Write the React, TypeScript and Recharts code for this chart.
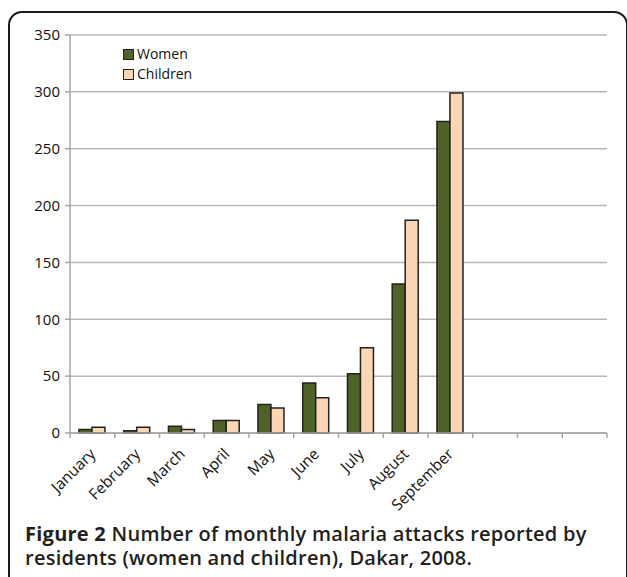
import React from "react";
import { BarChart, Bar, XAxis, YAxis, CartesianGrid } from "recharts";

const categories = ["January", "February", "March", "April", "May", "June", "July", "August", "September", " ", "  ", "   "];
const women = [3, 2, 6, 11, 25, 44, 52, 131, 274, null, null, null];
const children = [5, 5, 3, 11, 22, 31, 75, 187, 299, null, null, null];
const yTicks = [0, 50, 100, 150, 200, 250, 300, 350];
const seriesNames = ["Women", "Children"];
const seriesColors = ["#4f6228", "#fcd5b5"];

const data = categories.map((c, i) => ({ month: c, women: women[i], children: children[i] }));

const FONT = "'Open Sans', sans-serif";

const XTick = (props: any) => {
  const { x, y, payload, index } = props;
  const half = payload && payload.offset ? payload.offset : 22.4;
  const label = String(payload.value).trim();
  return (
    <g>
      <line x1={x - half} x2={x - half} y1={y} y2={y + 5} stroke="#a6a6a6" strokeWidth={1.5} />
      {index === categories.length - 1 && (
        <line x1={x + half} x2={x + half} y1={y} y2={y + 5} stroke="#a6a6a6" strokeWidth={1.5} />
      )}
      {label && (
        <text
          x={x + 4}
          y={y + 22}
          textAnchor="end"
          fontSize={15.5}
          fontFamily={FONT}
          fill="#111"
          transform={`rotate(-45, ${x + 4}, ${y + 22})`}
        >
          {label}
        </text>
      )}
    </g>
  );
};

const LegendBox = () => (
  <div
    style={{
      position: "absolute",
      left: 123,
      top: 44,
      fontFamily: FONT,
      fontSize: 14,
      color: "#111",
      lineHeight: "20px",
    }}
  >
    {seriesNames.map((n, i) => (
      <div key={n} style={{ display: "flex", alignItems: "center" }}>
        <span
          style={{
            display: "inline-block",
            width: 9,
            height: 9,
            background: seriesColors[i],
            border: "1.5px solid #222",
            marginRight: 3,
          }}
        />
        <span>{n}</span>
      </div>
    ))}
  </div>
);

export default function App() {
  return (
    <div style={{ position: "fixed", left: 0, top: 0, width: 627, height: 577, overflow: "hidden", background: "#fff" }}>
      <div
        style={{
          position: "absolute",
          left: 8,
          top: 11,
          width: 616,
          height: 700,
          border: "2px solid #1a1a1a",
          borderRadius: 14,
        }}
      />
      <div style={{ position: "absolute", left: 0, top: 0 }}>
        <BarChart
          width={627}
          height={520}
          data={data}
          margin={{ top: 35, right: 20, left: 0, bottom: 0 }}
          barCategoryGap="20%"
          barGap={0}
        >
          <CartesianGrid vertical={false} stroke="#b8b8b8" strokeWidth={1.5} />
          <XAxis
            dataKey="month"
            height={87}
            interval={0}
            tickSize={0}
            tickMargin={0}
            tickLine={false}
            axisLine={{ stroke: "#a6a6a6", strokeWidth: 1.5 }}
            tick={<XTick />}
          />
          <YAxis
            width={70}
            domain={[0, 350]}
            ticks={yTicks}
            interval={0}
            tickSize={5}
            tickMargin={5}
            tickLine={{ stroke: "#a6a6a6", strokeWidth: 1.5 }}
            axisLine={{ stroke: "#a6a6a6", strokeWidth: 1.5 }}
            tick={{ fontSize: 15, fontFamily: FONT, fill: "#111" }}
          />
          <Bar dataKey="women" name={seriesNames[0]} fill={seriesColors[0]} stroke="#222" strokeWidth={1.5} isAnimationActive={false} />
          <Bar dataKey="children" name={seriesNames[1]} fill={seriesColors[1]} stroke="#222" strokeWidth={1.5} isAnimationActive={false} />
        </BarChart>
      </div>
      <LegendBox />
      <div
        style={{
          position: "absolute",
          left: 25,
          top: 522,
          fontFamily: FONT,
          fontSize: 20,
          fontWeight: 600,
          lineHeight: "24px",
          letterSpacing: 0.25,
          color: "#231f20",
          width: 610,
          whiteSpace: "nowrap",
        }}
      >
        <span style={{ fontWeight: 700 }}>Figure 2</span> Number of monthly malaria attacks reported by
        <br />
        residents (women and children), Dakar, 2008.
      </div>
    </div>
  );
}
